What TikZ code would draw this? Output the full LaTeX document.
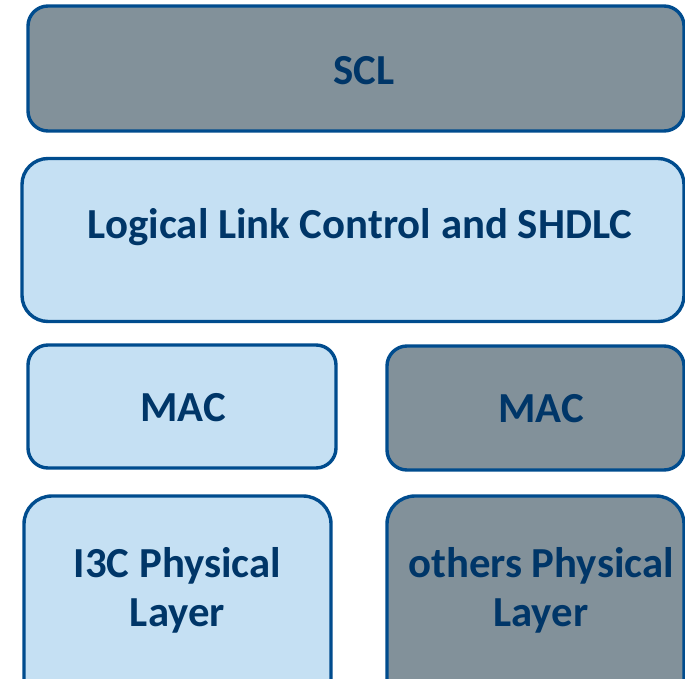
\documentclass[tikz,border=0pt]{standalone}
\usepackage{fontspec}
\setmainfont{Carlito}
\definecolor{edgeblue}{RGB}{0,76,142}
\definecolor{textnavy}{RGB}{0,54,104}
\definecolor{paleblue}{RGB}{197,224,243}
\definecolor{slate}{RGB}{130,145,154}
\tikzset{
  layer/.style={draw=edgeblue, line width=3.4pt, rounded corners=20pt, rectangle, inner sep=0pt},
  lightlayer/.style={layer, fill=paleblue},
  darklayer/.style={layer, fill=slate},
  lbl/.style={anchor=base, text=textnavy, font=\fontsize{42.8}{49}\selectfont\bfseries, align=center, inner sep=0pt},
}
\begin{document}
\begin{tikzpicture}[x=1pt,y=-1pt]
  \useasboundingbox (0,0) rectangle (685,679);
  \clip (0,0) rectangle (685,679);
  % layer boxes
  \node[darklayer,  minimum width=656pt, minimum height=125pt] (scl)   at (356,68.5) {};
  \node[lightlayer, rounded corners=26pt, minimum width=662pt, minimum height=163pt] (llc) at (353,240) {};
  \node[lightlayer, minimum width=308pt, minimum height=123pt] (macA)  at (182,406.5) {};
  \node[darklayer,  minimum width=297pt, minimum height=124pt] (macB)  at (535.5,408) {};
  \node[lightlayer, rounded corners=28pt, minimum width=307pt, minimum height=230pt] (phyA) at (177.5,611) {};
  \node[darklayer,  rounded corners=28pt, minimum width=297pt, minimum height=230pt] (phyB) at (535.5,611) {};
  % labels
  \node[lbl] (sclT)  at (364,85)  {SCL};
  \node[lbl] (llcT)  at (360,238) {Logical Link Control and SHDLC};
  \node[lbl] (macAT) at (183,421) {MAC};
  \node[lbl] (macBT) at (541,422) {MAC};
  \node[lbl] (phyAT) at (177.5,626) {I3C Physical\\Layer};
  \node[lbl] (phyBT) at (541,626) {others Physical\\Layer};
\end{tikzpicture}
\end{document}
